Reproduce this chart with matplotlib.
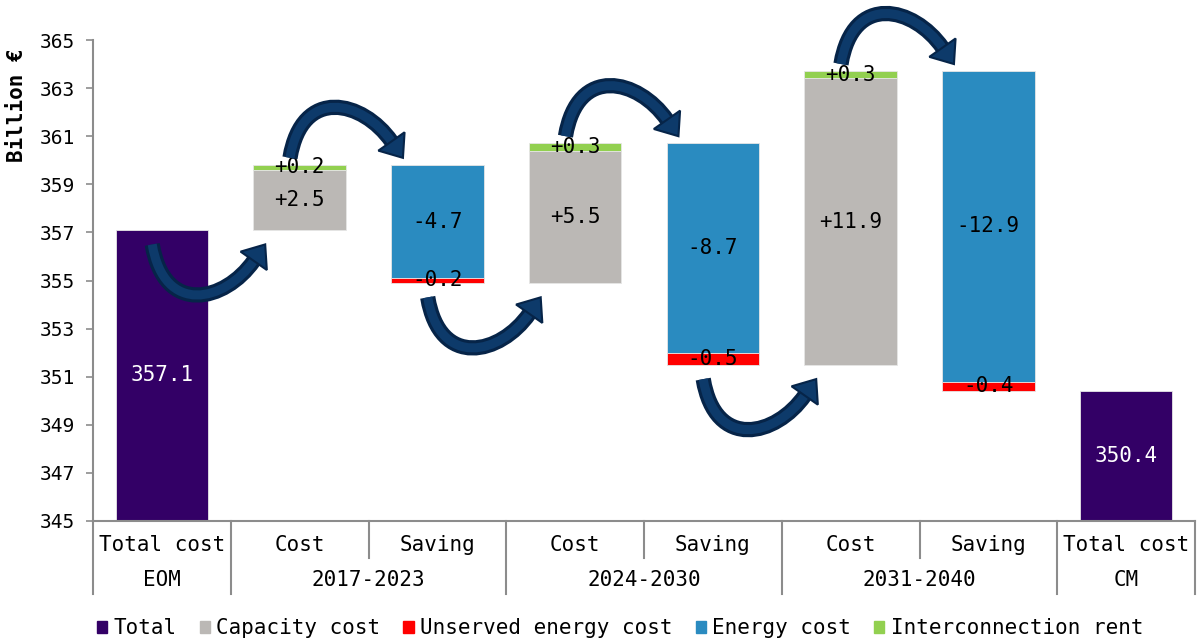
import matplotlib
matplotlib.use("Agg")
import numpy as np
import matplotlib.pyplot as plt
from matplotlib.patches import Patch, PathPatch, Polygon
from matplotlib.path import Path
from matplotlib.lines import Line2D
from matplotlib.transforms import blended_transform_factory

plt.rcParams['font.family'] = ['DejaVu Sans Mono', 'DejaVu Sans']

# ---- data -------------------------------------------------------------
bar_labels = ["Total cost", "Cost", "Saving", "Cost", "Saving",
              "Cost", "Saving", "Total cost"]
group_labels = ["EOM", "2017-2023", "2024-2030", "2031-2040", "CM"]
group_centers = [0, 1.5, 3.5, 5.5, 7]

total_eom = 357.1
total_cm = 350.4
capacity_cost = [2.5, 5.5, 11.9]        # cost bars
interconnection_rent = [0.2, 0.3, 0.3]  # cost bars
energy_cost = [-4.7, -8.7, -12.9]       # saving bars
unserved_energy = [-0.2, -0.5, -0.4]    # saving bars

yticks = list(range(345, 366, 2))

# ---- colours ----------------------------------------------------------
C_TOTAL = "#330066"
C_CAP = "#bbb8b5"
C_UNS = "#ff0000"
C_ENE = "#2a8bc0"
C_INT = "#92d050"
C_ARROW = "#0d3a6a"
C_ARROW_EDGE = "#062448"
C_AXIS = "#8c8c8c"

FIG_W, FIG_H, DPI = 11.98, 6.39, 100
fig = plt.figure(figsize=(FIG_W, FIG_H), dpi=DPI)
ax_rect = [93 / 1198, 1 - 521 / 639, 1102 / 1198, 481 / 639]
ax = fig.add_axes(ax_rect)
XLIM, YLIM = (-0.5, 7.5), (345, 365)
ax.set_xlim(*XLIM)
ax.set_ylim(*YLIM)

# pixels per data unit (used to shape the curved arrows)
PX_X = ax_rect[2] * FIG_W * DPI / (XLIM[1] - XLIM[0])
PX_Y = ax_rect[3] * FIG_H * DPI / (YLIM[1] - YLIM[0])

W = 0.67
FS = 15
base = 345

def seg(x, bottom, height, color, label, txtcolor="black"):
    ax.bar(x, height, bottom=bottom, width=W, color=color,
           edgecolor="#e6e6e6", linewidth=0.6, zorder=2)
    ax.text(x, bottom + height / 2, label, ha="center", va="center",
            fontsize=FS, color=txtcolor, zorder=4)

# totals
seg(0, base, total_eom - base, C_TOTAL, f"{total_eom:.1f}", "white")
seg(7, base, total_cm - base, C_TOTAL, f"{total_cm:.1f}", "white")

level = total_eom
levels = [level]   # level at each transition between bars
x = 1
for cap, ic, en, un in zip(capacity_cost, interconnection_rent,
                           energy_cost, unserved_energy):
    seg(x, level, cap, C_CAP, f"+{cap:.1f}")
    seg(x, level + cap, ic, C_INT, f"+{ic:.1f}")
    level += cap + ic
    levels.append(level)
    x += 1
    seg(x, level, en, C_ENE, f"{en:.1f}")
    seg(x, level + en, un, C_UNS, f"{un:.1f}")
    level += en + un
    levels.append(level)
    x += 1


# ---- curved arrows between bars -----------------------------------------
def curved_arrow(xa, xb, y0, below):
    """Bent arrow from (xa, y0) to (xb, y0), sagging below or bulging above."""
    s = -1 if below else 1                    # vertical sense in data space
    span = (xb - xa) * PX_X                   # horizontal span in pixels
    ang = np.deg2rad(55)
    head_len, head_half = 20, 16
    # head direction (pixels, y up): up-right when coming from below
    d = np.array([np.cos(ang), -s * np.sin(ang)])
    tip = np.array([span, 0.0])
    hb = tip - head_len * d
    p0 = np.array([0.0, 0.0])
    p1 = np.array([12.0, s * 72.0])
    p2 = hb - 50 * d
    pts_px = np.array([p0, p1, p2, hb])

    def to_data(p):
        p = np.atleast_2d(p)
        return np.column_stack([xa + p[:, 0] / PX_X, y0 + p[:, 1] / PX_Y])

    body = Path(to_data(pts_px),
                [Path.MOVETO, Path.CURVE4, Path.CURVE4, Path.CURVE4])
    for lw, col in ((11, C_ARROW_EDGE), (6.5, C_ARROW)):
        pp = PathPatch(body, fill=False, lw=lw, edgecolor=col,
                       capstyle="butt", zorder=5, clip_on=False)
        ax.add_patch(pp)
    perp = np.array([d[1], -d[0]])
    head_px = np.array([tip, hb + head_half * perp, hb - head_half * perp])
    head = Polygon(to_data(head_px), closed=True, facecolor=C_ARROW,
                   edgecolor=C_ARROW_EDGE, lw=1.5, joinstyle="miter",
                   zorder=6, clip_on=False)
    ax.add_patch(head)


for i in range(6):
    lv = levels[i]
    if i % 2 == 1:   # cost -> saving : arc over the top
        curved_arrow(i - 0.07, i + 1 - 0.25, lv + 0.3, below=False)
    else:            # into a cost bar : arc underneath
        curved_arrow(i - 0.07, i + 1 - 0.25, lv - 0.6, below=True)

# ---- axes styling -----------------------------------------------------
for s in ("top", "right"):
    ax.spines[s].set_visible(False)
for s in ("left", "bottom"):
    ax.spines[s].set_color(C_AXIS)
    ax.spines[s].set_linewidth(1.5)
ax.set_xticks([])
ax.set_yticks(yticks)
ax.tick_params(axis="y", direction="out", length=5, width=1.2,
               color=C_AXIS, labelsize=14, pad=8)
ax.set_ylabel("Billion €", fontsize=FS, fontweight="bold")
ax.yaxis.set_label_coords(-0.06, 0.865)

# two-level category axis
trans = blended_transform_factory(ax.transData, ax.transAxes)
for xb in [-0.5, 0.5, 2.5, 4.5, 6.5, 7.5]:
    ax.add_line(Line2D([xb, xb], [0, -0.152], transform=trans,
                       color=C_AXIS, lw=1.5, clip_on=False))
for xb in [1.5, 3.5, 5.5]:
    ax.add_line(Line2D([xb, xb], [0, -0.077], transform=trans,
                       color=C_AXIS, lw=1.5, clip_on=False))
for i, lab in enumerate(bar_labels):
    ax.text(i, -0.05, lab, transform=trans, ha="center", va="center",
            fontsize=FS)
for xc, lab in zip(group_centers, group_labels):
    ax.text(xc, -0.123, lab, transform=trans, ha="center", va="center",
            fontsize=FS)

# legend
handles = [Patch(color=C_TOTAL, label="Total"),
           Patch(color=C_CAP, label="Capacity cost"),
           Patch(color=C_UNS, label="Unserved energy cost"),
           Patch(color=C_ENE, label="Energy cost"),
           Patch(color=C_INT, label="Interconnection rent")]
fig.legend(handles=handles, loc="center left", bbox_to_anchor=(0.081, 0.017),
           ncol=5, frameon=False, fontsize=FS, handlelength=0.5,
           handleheight=0.5, handletextpad=0.3, columnspacing=1.1,
           borderpad=0, borderaxespad=0)

fig.savefig("out.png", dpi=DPI)
